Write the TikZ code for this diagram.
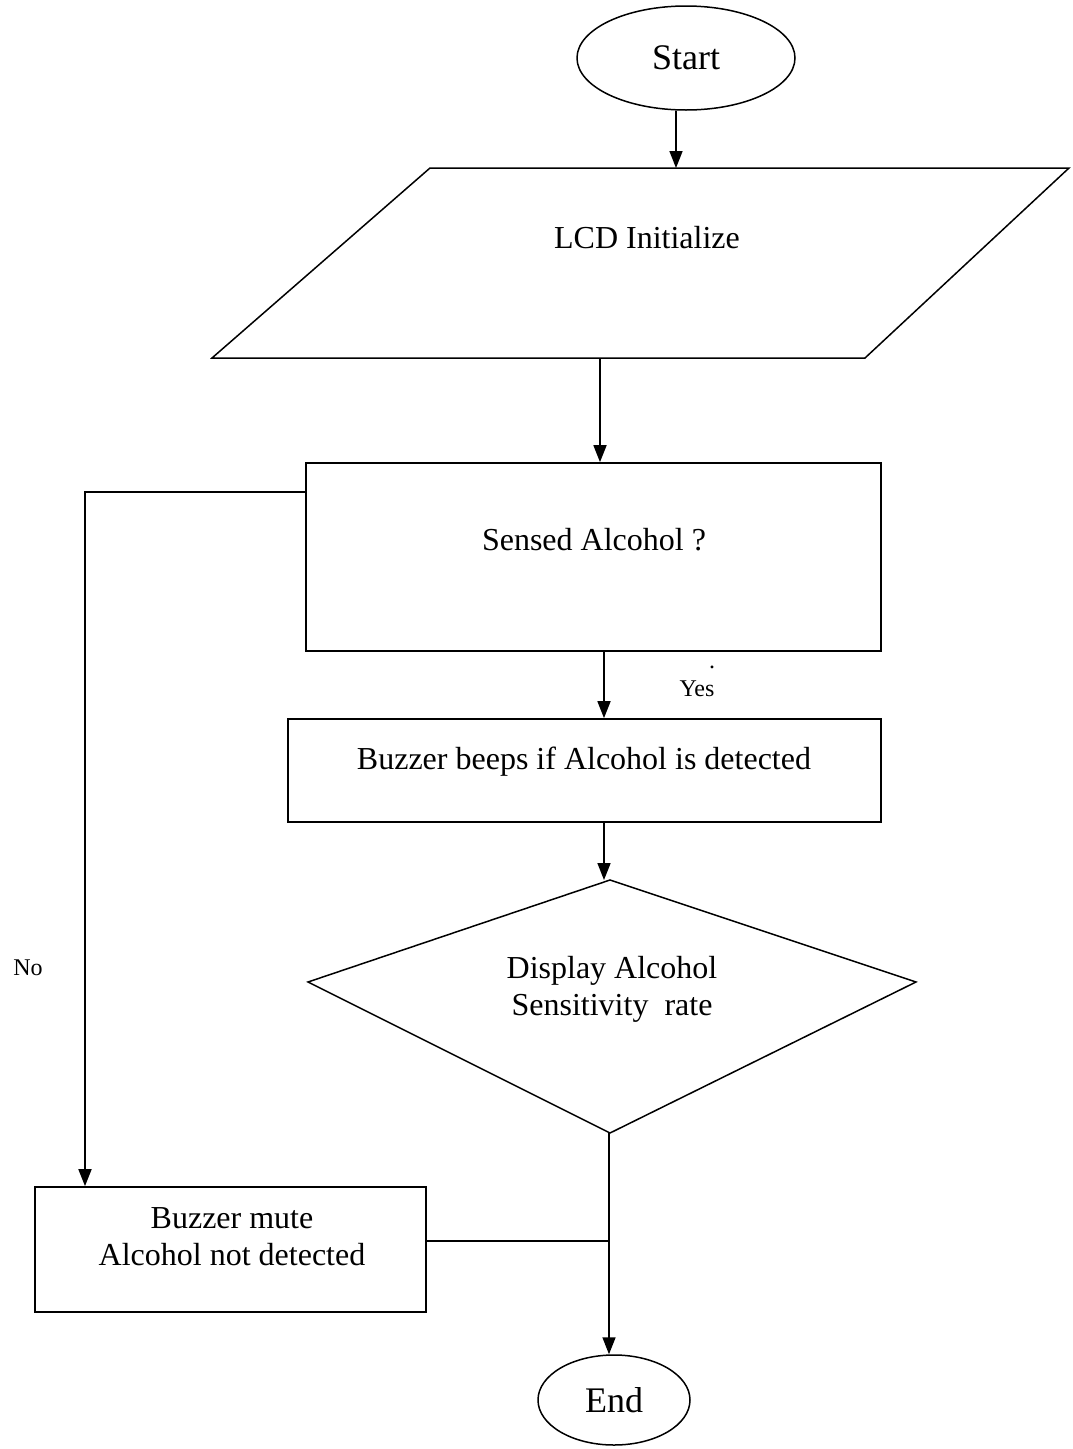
\documentclass[tikz,border=0pt]{standalone}
\usepackage{fontspec}
\setmainfont{Liberation Serif}
\usetikzlibrary{shapes.geometric,arrows.meta}
\begin{document}
\begin{tikzpicture}[x=1pt,y=-1pt,
  line width=1.7pt,
  arr/.style={-{Triangle[length=17pt,width=13pt]}},
  plain/.style={line width=1.5pt},
  txt/.style={font=\fontsize{32}{37}\selectfont, align=center, inner sep=0pt},
  big/.style={font=\fontsize{36}{42}\selectfont, inner sep=0pt},
  small/.style={font=\fontsize{24}{28}\selectfont, inner sep=0pt},
  term/.style={draw, ellipse, inner sep=0pt, line width=1.5pt},
  box/.style={draw, rectangle, inner sep=0pt, line width=1.7pt}]
\useasboundingbox (0,0) rectangle (1072,1449);
% Start
\node[term, big, minimum width=218pt, minimum height=104pt] (start) at (686,58) {Start};
% LCD parallelogram
\coordinate (ptl) at (430,168);
\coordinate (ptr) at (1069,168);
\coordinate (pbr) at (865,358);
\coordinate (pbl) at (212,358);
\draw[plain] (ptl) -- (ptr) -- (pbr) -- (pbl) -- cycle;
\node[txt] (lcd) at (647,238) {LCD Initialize};
\coordinate (lcdtop) at (676,168);
\coordinate (lcdbot) at (600,358);
% Sensed Alcohol
\node[box, minimum width=575pt, minimum height=188pt] (sense) at (593.5,557) {};
\node[txt] (sensetxt) at (594,540) {Sensed Alcohol ?};
% Buzzer beeps
\node[box, minimum width=593pt, minimum height=103pt] (beep) at (584.5,770.5) {};
\node[txt] (beeptxt) at (584,762) {Buzzer beeps if Alcohol is detected};
% Diamond
\coordinate (dtop) at (610,880);
\coordinate (dright) at (916,982);
\coordinate (dbot) at (610,1133);
\coordinate (dleft) at (308,982);
\draw[plain] (dtop) -- (dright) -- (dbot) -- (dleft) -- cycle;
\node[txt] (disptxt) at (612,989) {Display Alcohol\\Sensitivity\ \ rate};
% Buzzer mute
\node[box, minimum width=391pt, minimum height=125pt] (mute) at (230.5,1249.5) {};
\node[txt] (mutetxt) at (232,1237) {Buzzer mute\\Alcohol not detected};
% End
\node[term, big, minimum width=152pt, minimum height=90pt] (end) at (614,1400) {End};
% labels
\node[small] (yes) at (697,689) {Yes};
\node[small] (dot) at (712,667) {.};
\node[small] (no) at (28,968) {No};
% connectors
\draw[arr] (start.south -| lcdtop) -- (lcdtop);
\draw[arr] (lcdbot) -- (sense.north -| lcdbot);
\coordinate (yesx) at (604,0);
\draw[arr] (sense.south -| yesx) -- (beep.north -| yesx);
\coordinate (beepx) at (604,0);
\draw[arr] (beep.south -| beepx) -- (beepx |- dtop);
\coordinate (nostart) at (306,492);
\coordinate (noturn) at (85,492);
\draw[arr] (nostart) -- (noturn) -- (noturn |- mute.north);
\coordinate (endx) at (609,0);
\draw[arr] (endx |- dbot) -- (end.north -| endx);
\coordinate (mutej) at (426,1241);
\draw[plain] (mutej) -- (mutej -| endx);
\end{tikzpicture}
\end{document}
